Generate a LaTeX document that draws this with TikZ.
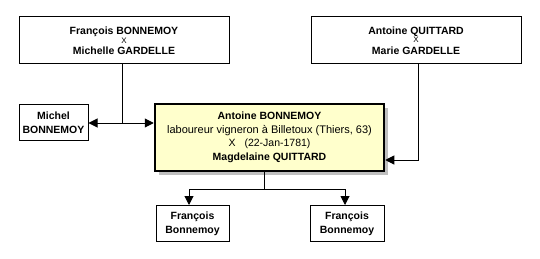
\documentclass[tikz,border=0pt]{standalone}
\usepackage{fontspec}
\setmainfont{Liberation Sans}
\usepackage{xcolor}
\usepackage{tikz}
\usetikzlibrary{arrows.meta,positioning,shadows}
\definecolor{mainfill}{HTML}{FFFFCC}
\tikzset{
  coupbox/.style   = {rectangle, draw=black, line width=1pt, fill=white,
                      align=center, inner sep=0pt, minimum width=210pt,
                      minimum height=47pt, font=\fontsize{10.5}{7.5}\selectfont},
  persbox/.style   = {rectangle, draw=black, line width=1pt, fill=white,
                      align=center, inner sep=0pt, minimum height=36pt,
                      font=\fontsize{10.5}{14}\selectfont\bfseries},
  mainbox/.style   = {rectangle, draw=black, line width=2.5pt, fill=mainfill,
                      align=center, inner sep=0pt, minimum width=229pt,
                      minimum height=67pt, font=\fontsize{10.5}{13.5}\selectfont,
                      drop shadow={shadow xshift=4pt, shadow yshift=-4pt,
                                   fill=black!25, opacity=1}},
  famflow/.style   = {draw=black, line width=1pt},
  famarrow/.style  = {famflow, -{Triangle[length=9pt,width=9pt]}},
}
\newcommand{\smallx}{{\fontsize{8}{7.5}\selectfont X}}

\begin{document}
\begin{tikzpicture}[x=1pt,y=-1pt]
  \useasboundingbox (0,0) rectangle (540,259);
  \node[coupbox] (pfam) at (124,40.5) {\textbf{François BONNEMOY}\\\smallx\\[2.5pt]\textbf{Michelle GARDELLE}};
  \node[coupbox] (mfam) at (416,40.5) {\textbf{Antoine QUITTARD}\\\smallx\\[2.5pt]\textbf{Marie GARDELLE}};
  \node[persbox, minimum width=69pt] (sib) at (53.5,122.5) {Michel\\BONNEMOY};
  \node[mainbox] (main) at (269.5,137.5) {\textbf{Antoine BONNEMOY}\\
    {\fontsize{11}{13.5}\selectfont laboureur vigneron à Billetoux (Thiers, 63)}\\
    X\hspace{9pt}(22-Jan-1781)\\\textbf{Magdelaine QUITTARD}};
  \node[persbox, minimum width=73pt] (kid1) at (192.5,223.5) {François\\Bonnemoy};
  \node[persbox, minimum width=74pt] (kid2) at (347,223.5) {François\\Bonnemoy};

  \coordinate (pj) at (122,123);
  \coordinate (mj) at (418,160);
  \coordinate (kj) at (264,189);
  \coordinate (k1) at (189,189);
  \coordinate (k2) at (345,189);

  \draw[famflow] (pfam.south -| pj) -- (pj);
  \draw[famarrow] (pj) -- (sib.east |- pj);
  \draw[famarrow] (pj) -- (main.west |- pj);
  \draw[famarrow] (mfam.south -| mj) -- (mj) -- (main.east |- mj);
  \draw[famflow] (main.south -| kj) -- (kj);
  \draw[famarrow] (kj) -- (k1) -- (k1 |- kid1.north);
  \draw[famarrow] (kj) -- (k2) -- (k2 |- kid2.north);
\end{tikzpicture}
\end{document}
